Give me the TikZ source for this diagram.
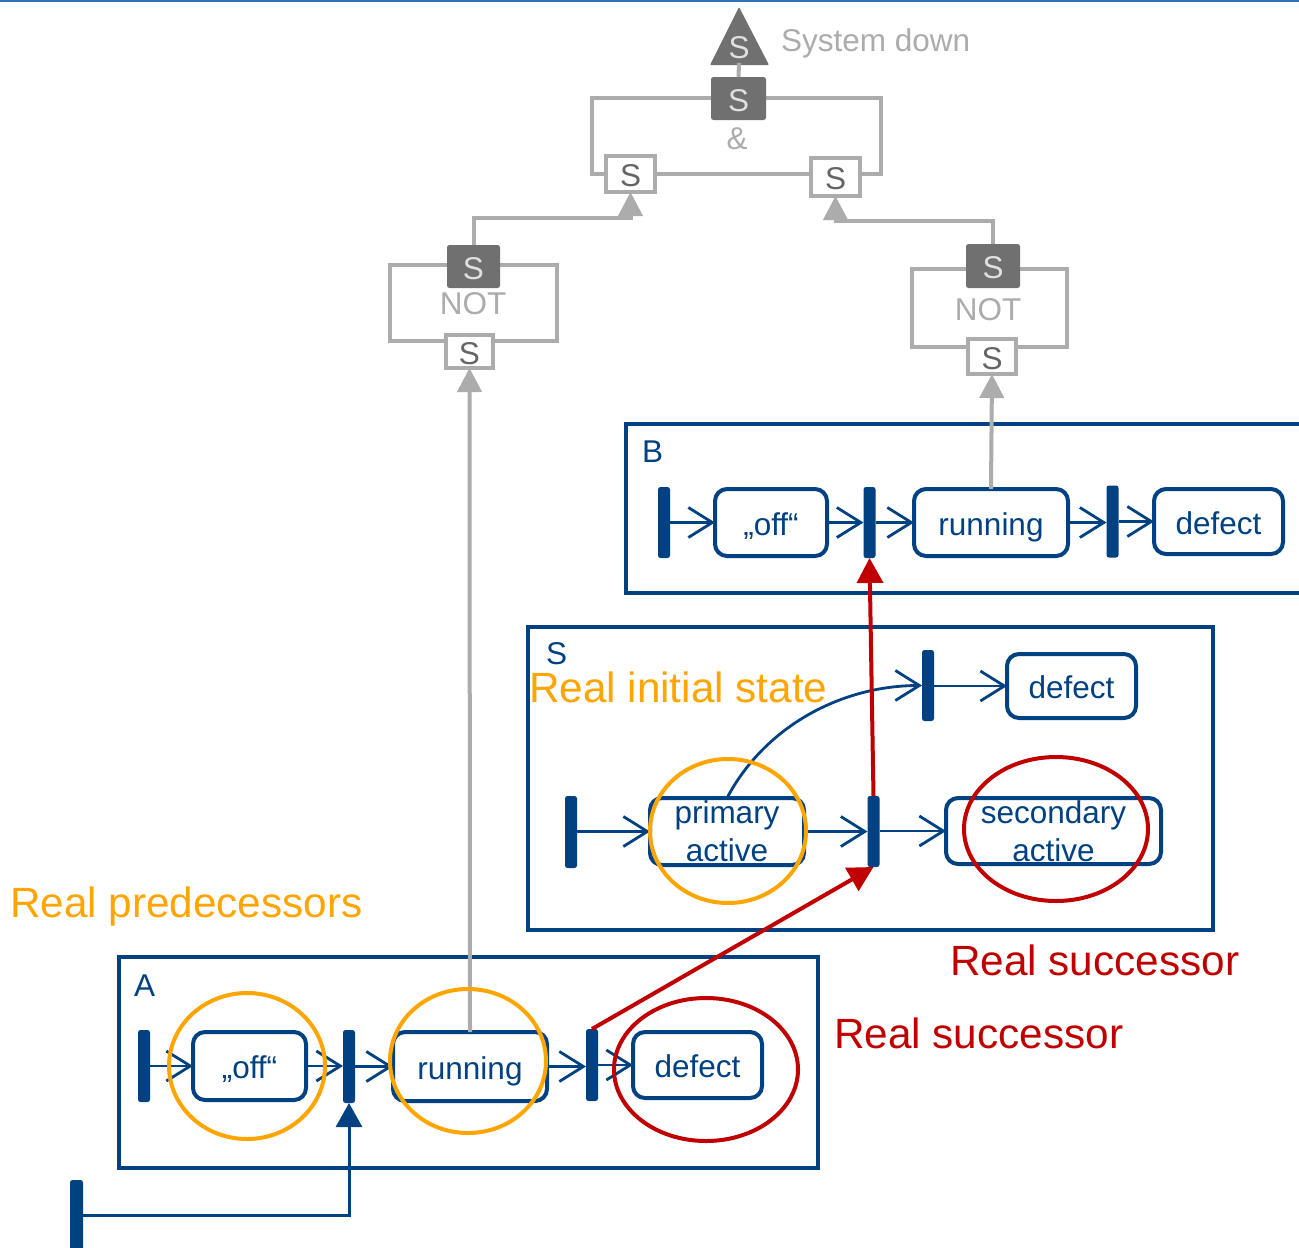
\documentclass[tikz,border=0pt]{standalone}
\usepackage{fontspec}
\setmainfont{Liberation Sans}
\usetikzlibrary{arrows.meta,shapes.geometric}
\definecolor{ublue}{RGB}{0,65,130}
\definecolor{topblue}{RGB}{46,117,182}
\definecolor{gline}{RGB}{172,172,172}
\definecolor{gdark}{RGB}{112,112,112}
\definecolor{gtext}{RGB}{224,224,224}
\definecolor{gstxt}{RGB}{100,100,100}
\definecolor{orng}{RGB}{255,165,0}
\definecolor{dred}{RGB}{192,0,0}
\begin{document}
\begin{tikzpicture}[x=1pt,y=-1pt,
  every node/.style={inner sep=0pt,outer sep=0pt,font=\fontsize{31.5}{38}\selectfont},
  lbl/.style={text height=27pt,text depth=2pt},
  bigtxt/.style={font=\fontsize{42.3}{50}\selectfont,anchor=base west},
  statebox/.style={draw=ublue,line width=4pt,rounded corners=12pt,text=ublue,fill=white,lbl},
  twoline/.style={draw=ublue,line width=4pt,rounded corners=12pt,text=ublue,fill=white,align=center},
  barnode/.style={fill=ublue,rounded corners=2.5pt,minimum width=12pt},
  frm/.style={draw=ublue,line width=4pt},
  trans/.style={draw=ublue,line width=2.8pt,-{Straight Barb[length=24pt,width=30pt]}},
  redarr/.style={draw=dred,line width=4pt,-{Triangle[length=25pt,width=26pt]}},
  garr/.style={draw=gline,line width=4pt,-{Triangle[length=24pt,width=24pt]}},
  gfrm/.style={draw=gline,line width=4pt},
  darkbox/.style={fill=gdark,rounded corners=2.5pt,text=gtext,lbl},
  smallbox/.style={draw=gline,line width=4pt,fill=white,text=gstxt,lbl},
  oring/.style={draw=orng,line width=4pt,ellipse},
  rring/.style={draw=dred,line width=4pt,ellipse}
]
\clip (0,0) rectangle (1299,1248);
\fill[white] (0,0) rectangle (1299,1248);
\draw[topblue,line width=1.6pt] (0,0.8) -- (1299,0.8);

% ---------- gray fault tree ----------
\draw[gfrm] (592,98) rectangle (881,174);
\draw[gfrm] (390,265) rectangle (557,341);
\draw[gfrm] (912,269) rectangle (1067,347);

\fill[gdark,rounded corners=1pt] (739,7) -- (769,65) -- (710,65) -- cycle;
\node[text=gtext,lbl] (top) at (739,46) {S};
\node[darkbox,minimum width=55pt,minimum height=43pt] (andS) at (738.5,98.5) {S};
\draw[gline,line width=4pt] (739,63) -- (andS.north);
\node[text=gline,lbl] (amp) at (737,137) {\&};
\node[smallbox,minimum width=49pt,minimum height=36pt] (andL) at (630.5,174) {S};
\node[smallbox,minimum width=49pt,minimum height=38pt] (andR) at (835.5,177) {S};
\node[text=gline,anchor=base west] (sysdown) at (781,51) {System down};

\node[darkbox,minimum width=53pt,minimum height=43pt] (notLd) at (473.5,266.5) {S};
\node[text=gline,lbl] (notL) at (473,302) {NOT};
\node[smallbox,minimum width=47pt,minimum height=33pt] (notLs) at (469.5,351.5) {S};
\node[darkbox,minimum width=54pt,minimum height=44pt] (notRd) at (993,266) {S};
\node[text=gline,lbl] (notR) at (988,308) {NOT};
\node[smallbox,minimum width=48pt,minimum height=35pt] (notRs) at (992,356.5) {S};

\draw[garr] (notLd.north) -- ++(0,-27) -| (andL.south);
\draw[garr] (notRd.north) -- ++(0,-23) -| (andR.south);

% ---------- B ----------
\draw[frm] (626,424) rectangle (1320,593);
\node[text=ublue,anchor=base west] (labB) at (642,462) {B};
\node[barnode,minimum height=71pt] (bB1) at (664,522.5) {};
\node[statebox,minimum width=112pt,minimum height=67pt] (offB) at (771,522.5) {„off“};
\node[barnode,minimum height=71pt] (bB2) at (869.5,522.5) {};
\node[statebox,minimum width=154pt,minimum height=67pt] (runB) at (991,522.5) {running};
\node[barnode,minimum height=72pt] (bB3) at (1112.5,521.5) {};
\node[statebox,minimum width=129pt,minimum height=65pt] (defB) at (1218.5,521.5) {defect};
\draw[trans] (bB1.east |- offB.west) -- (offB.west);
\draw[trans] (offB.east) -- (offB.east -| bB2.west);
\draw[trans] (bB2.east |- runB.west) -- (runB.west);
\draw[trans] (runB.east) -- (runB.east -| bB3.west);
\draw[trans] (bB3.east |- defB.west) -- (defB.west);

% ---------- S ----------
\draw[frm] (528,627) rectangle (1213,930);
\node[text=ublue,anchor=base west] (labS) at (546,664) {S};
\node[barnode,minimum height=71pt] (bS0) at (928,685.5) {};
\node[statebox,minimum width=129pt,minimum height=64pt] (defS) at (1071.5,686) {defect};
\node[barnode,minimum height=72pt] (bS1) at (571,832) {};
\node[twoline,minimum width=154pt,minimum height=67pt] (primS) at (727,831.5) {primary\\active};
\node[barnode,minimum height=71pt] (bS2) at (873.5,831.5) {};
\node[twoline,minimum width=215pt,minimum height=66pt] (secS) at (1053.5,831) {secondary\\active};
\draw[trans] (bS0.east |- defS.west) -- (defS.west);
\draw[trans] (bS1.east |- primS.west) -- (primS.west);
\draw[trans] (primS.east) -- (primS.east -| bS2.west);
\draw[trans] (bS2.east |- secS.west) -- (secS.west);
\draw[trans] (primS.north) .. controls +(38,-72) and +(-80,0) .. (bS0.west);

% ---------- A ----------
\draw[frm] (119,957) rectangle (818,1168);
\node[text=ublue,anchor=base west] (labA) at (134,996) {A};
\node[barnode,minimum height=72pt] (bA1) at (144,1066) {};
\node[statebox,minimum width=113pt,minimum height=68pt] (offA) at (249.5,1066) {„off“};
\node[barnode,minimum height=73pt] (bA2) at (349,1066.5) {};
\node[statebox,minimum width=154pt,minimum height=69pt] (runA) at (470,1066.5) {running};
\node[barnode,minimum height=72pt] (bA3) at (592,1065) {};
\node[statebox,minimum width=129pt,minimum height=66pt] (defA) at (697.5,1065) {defect};
\draw[trans] (bA1.east |- offA.west) -- (offA.west);
\draw[trans] (offA.east) -- (offA.east -| bA2.west);
\draw[trans] (bA2.east |- runA.west) -- (runA.west);
\draw[trans] (runA.east) -- (runA.east -| bA3.west);
\draw[trans] (bA3.east |- defA.west) -- (defA.west);

\node[barnode,minimum width=13pt,minimum height=70pt] (bInit) at (76.5,1215) {};
\draw[ublue,line width=3pt,-{Triangle[length=24pt,width=26pt]}] (bInit.east) -| (bA2.south);

% ---------- gray links from running ----------
\draw[garr] (runA.north) -- (notLs.south);
\draw[garr] (runB.north) -- (notRs.south);

% ---------- highlight ellipses ----------
\node[oring,minimum width=156pt,minimum height=146pt] (eOffA) at (247,1066) {};
\node[oring,minimum width=156pt,minimum height=144pt] (eRunA) at (468,1061) {};
\node[rring,minimum width=184pt,minimum height=143pt] (eDefA) at (706,1069.5) {};
\node[oring,minimum width=156pt,minimum height=144pt] (ePrim) at (728,831) {};
\node[rring,minimum width=184pt,minimum height=144pt] (eSec) at (1056,829) {};

% ---------- red arrows ----------
\draw[redarr] (bS2.north) -- (bB2.south);
\draw[redarr] (bA3.north) -- (bS2.south);

% ---------- annotations ----------
\node[bigtxt,text=orng] (tInit) at (529,702) {Real initial state};
\node[bigtxt,text=orng] (tPred) at (10,917) {Real predecessors};
\node[bigtxt,text=dred] (tSucc1) at (950,975) {Real successor};
\node[bigtxt,text=dred] (tSucc2) at (834,1048) {Real successor};
\end{tikzpicture}
\end{document}
